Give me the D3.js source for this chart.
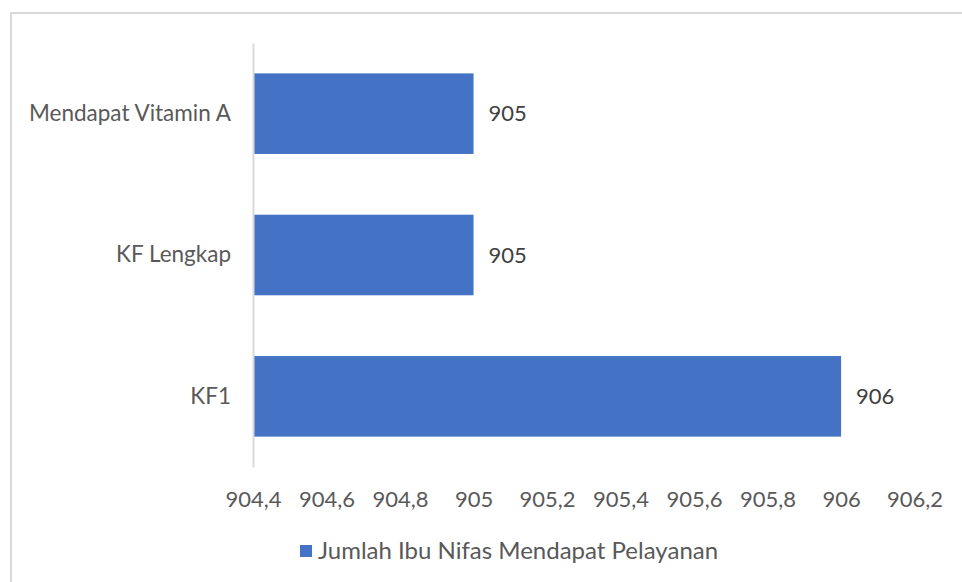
<!DOCTYPE html>
<html><head><meta charset="utf-8">
<script src="https://cdn.jsdelivr.net/npm/d3@7"></script>
<style>body{margin:0;background:#fff}svg{display:block}text{font-family:Lato,sans-serif}</style>
</head><body>
<svg id="c" width="962" height="582"></svg>
<script>
const categories = ["Mendapat Vitamin A", "KF Lengkap", "KF1"];
const values = [905, 905, 906];
const seriesName = "Jumlah Ibu Nifas Mendapat Pelayanan";
const xTicks = [904.4, 904.6, 904.8, 905, 905.2, 905.4, 905.6, 905.8, 906, 906.2];

(function () {
const svg = d3.select("#c");
const color = "#4472C4";
const FONT = "Lato, sans-serif";
svg.append("rect").attr("x", 11).attr("y", 13).attr("width", 970).attr("height", 600)
  .attr("fill", "none").attr("stroke", "#d9d9d9").attr("stroke-width", 2);

const mLeft = 253, mRight = 914.6, mTop = 43, mBottom = 467;
const x = d3.scaleLinear().domain([904.4, 906.2]).range([mLeft, mRight]);
const y = d3.scaleBand().domain(categories).range([mTop, mBottom]).paddingInner(0.43).paddingOuter(0.215);

svg.selectAll("rect.bar").data(categories).enter().append("rect").attr("class", "bar")
  .attr("x", x(904.4)).attr("y", d => y(d))
  .attr("width", (d, i) => x(values[i]) - x(904.4)).attr("height", y.bandwidth())
  .attr("fill", color);

svg.selectAll("text.val").data(categories).enter().append("text").attr("class", "val")
  .attr("x", (d, i) => x(values[i]) + 15).attr("y", d => y(d) + y.bandwidth() / 2)
  .attr("dy", "0.35em").attr("font-size", 22).attr("font-family", FONT).attr("fill", "#404040")
  .text((d, i) => values[i]);

const yAxis = d3.axisLeft(y).tickSize(0).tickPadding(22);
const gy = svg.append("g").attr("transform", `translate(${mLeft},0)`).call(yAxis);
gy.select(".domain").attr("stroke", "#d9d9d9").attr("stroke-width", 2);
gy.selectAll("text").attr("font-size", 22.5).attr("fill", "#595959").attr("font-family", FONT);

const fmt = v => d3.format(".1~f")(v).replace(".", ",");
const xAxis = d3.axisBottom(x).tickValues(xTicks).tickFormat(fmt).tickSize(0).tickPadding(24);
const gx = svg.append("g").attr("transform", `translate(0,${mBottom})`).call(xAxis);
gx.select(".domain").remove();
gx.selectAll("text").attr("font-size", 22).attr("fill", "#595959").attr("font-family", FONT);

const lg = svg.append("g").attr("transform", "translate(300,545)");
lg.append("rect").attr("width", 12).attr("height", 12).attr("fill", color);
lg.append("text").attr("x", 18).attr("y", 6).attr("dy", "0.35em").attr("font-size", 24)
  .attr("font-family", FONT).attr("fill", "#595959").text(seriesName);
})();
</script>
</body></html>
